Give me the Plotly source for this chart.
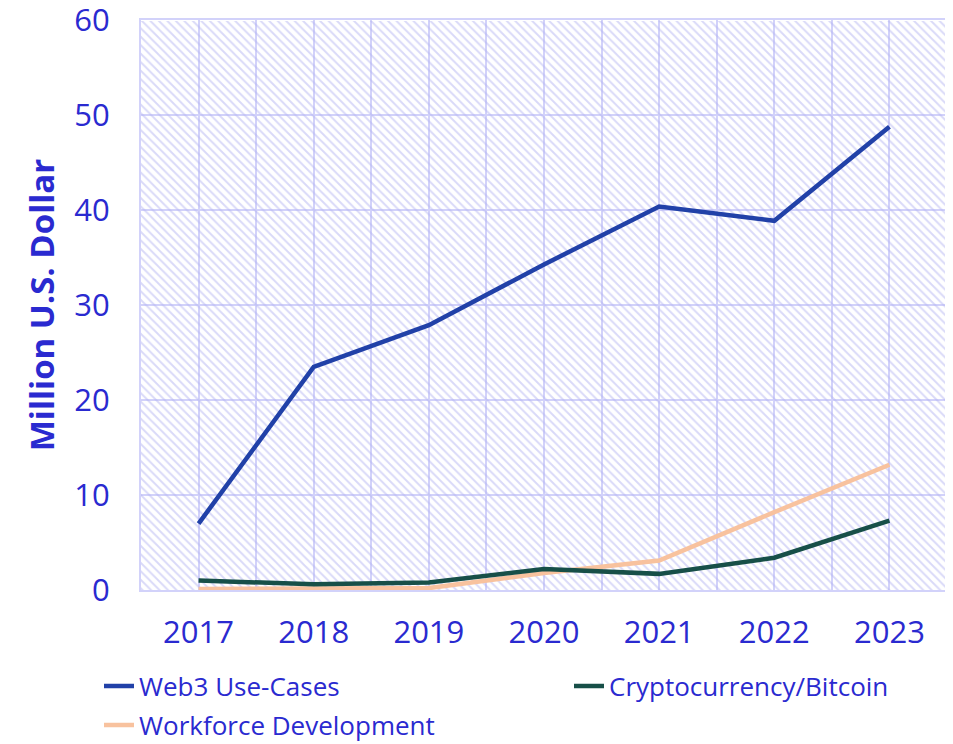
import plotly.graph_objects as go

# ── Data ──────────────────────────────────────────────────────────────────────
YEARS = ["2017", "2018", "2019", "2020", "2021", "2022", "2023"]
WEB3 = [7.0, 23.5, 27.9, 34.3, 40.4, 38.9, 48.8]
CRYPTO = [1.0, 0.6, 0.8, 2.2, 1.7, 3.4, 7.3]
WORKFORCE = [0.1, 0.1, 0.2, 1.8, 3.1, 8.2, 13.2]
Y_MAX = 60

# ── Palette ───────────────────────────────────────────────────────────────────
TEXT = "#2a2ad0"
GRID = "#d2d2fa"
HATCH = "#b4b4f2"
C_WEB3 = "#2141a8"
C_CRYPTO = "#174f48"
C_WORK = "#f8c29e"
FONT = "Open Sans, sans-serif"

W, H = 945, 736   # page body adds an 8px margin around the figure

xs = list(range(len(YEARS)))

fig = go.Figure()

# hatched plot background
fig.add_trace(go.Bar(
    x=xs, y=[Y_MAX] * len(YEARS), width=1,
    marker=dict(color="rgba(0,0,0,0)", line=dict(width=0),
                pattern=dict(shape="\\", fgcolor=HATCH, bgcolor="rgba(0,0,0,0)",
                             size=6, solidity=0.32)),
    showlegend=False, hoverinfo="skip",
))

fig.add_trace(go.Scatter(x=xs, y=WORKFORCE, mode="lines", name="Workforce Development",
                         line=dict(color=C_WORK, width=4.5), legend="legend3"))
fig.add_trace(go.Scatter(x=xs, y=CRYPTO, mode="lines", name="Cryptocurrency/Bitcoin",
                         line=dict(color=C_CRYPTO, width=4.5), legend="legend2"))
fig.add_trace(go.Scatter(x=xs, y=WEB3, mode="lines", name="Web3 Use-Cases",
                         line=dict(color=C_WEB3, width=4.5), legend="legend"))

legend_common = dict(orientation="h", xref="container", yref="container",
                     xanchor="left", yanchor="middle",
                     font=dict(size=26, color=TEXT), bgcolor="rgba(0,0,0,0)")

fig.update_layout(
    width=W, height=H,
    paper_bgcolor="white", plot_bgcolor="white",
    font=dict(family=FONT, color=TEXT, size=22),
    margin=dict(t=12, b=154, l=133, r=6),
    bargap=0,
    legend=dict(**legend_common, x=91 / W, y=1 - 678 / H),
    legend2=dict(**legend_common, x=561 / W, y=1 - 678 / H),
    legend3=dict(**legend_common, x=91 / W, y=1 - 717 / H),
)

fig.update_xaxes(
    range=[-0.5, len(YEARS) - 0.5], automargin=False,
    tickmode="array", tickvals=xs, ticktext=YEARS,
    tickfont=dict(size=31, color=TEXT), ticklabelstandoff=14,
    showgrid=True, gridcolor=GRID, gridwidth=1.5,
    minor=dict(showgrid=True, gridcolor=GRID, gridwidth=1.5, tick0=0.5, dtick=1),
    showline=True, linecolor=GRID, linewidth=2, mirror=True,
    zeroline=False, ticks="",
)
fig.update_yaxes(
    range=[0, Y_MAX * 1.001], automargin=False,
    tickmode="array", tickvals=list(range(0, Y_MAX + 1, 10)),
    tickfont=dict(size=31, color=TEXT), ticklabelstandoff=23,
    ticklabeloverflow="allow",
    showgrid=True, gridcolor=GRID, gridwidth=1.5,
    showline=True, linecolor=GRID, linewidth=2, mirror=True,
    zeroline=False, ticks="",
    title=dict(text="<b>Million U.S. Dollar</b>", font=dict(size=33, color=TEXT), standoff=10),
)

fig.write_html("out.html")
